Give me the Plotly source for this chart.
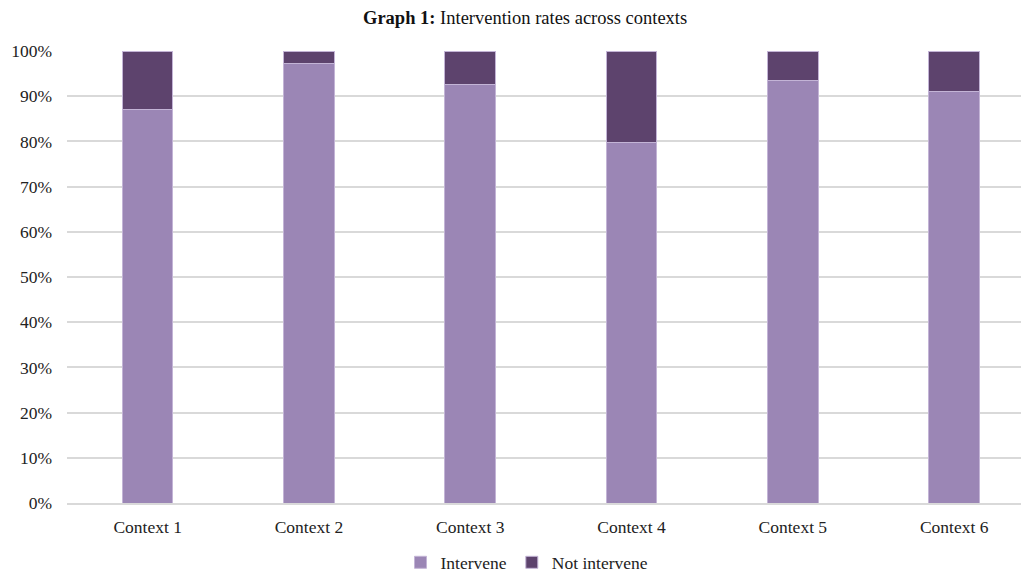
import plotly.graph_objects as go

categories = ["Context 1", "Context 2", "Context 3", "Context 4", "Context 5", "Context 6"]
intervene = [0.870, 0.973, 0.927, 0.798, 0.935, 0.911]
not_intervene = [round(1 - v, 3) for v in intervene]
series_names = ["Intervene", "Not intervene"]
colors = ["#9B86B5", "#5D436D"]

FONT = "Liberation Serif"
W, H = 1021, 573
left, right, top, bottom = 67, 0, 51, 69.5
plot_w = W - left - right
plot_h = H - top - bottom
cat_px = 161.3
span = plot_w / cat_px

fig = go.Figure()
for name, vals, col in zip(series_names, [intervene, not_intervene], colors):
    fig.add_trace(go.Bar(
        x=categories, y=vals, name=name, width=0.314,
        marker=dict(color=col, line=dict(color="#C3B4D6", width=1)),
    ))

fig.update_layout(
    width=W, height=H, barmode="stack",
    margin=dict(l=left, r=right, t=top, b=bottom, autoexpand=False),
    paper_bgcolor="white", plot_bgcolor="white",
    font=dict(family=FONT, size=17.5, color="#222222"),
    showlegend=True,
    legend=dict(orientation="h", x=(527 - left) / plot_w, xanchor="center",
                y=(503.5 - 563) / plot_h, yanchor="middle",
                font=dict(size=17.5, family=FONT), itemwidth=30, traceorder="normal",
                itemclick=False),
    xaxis=dict(range=[-0.5, -0.5 + span], showgrid=False, zeroline=False,
               showline=True, linecolor="#D9D9D9", linewidth=1.5,
               ticks="", ticklabelstandoff=7, tickfont=dict(size=17.5)),
    yaxis=dict(range=[0, 1], dtick=0.1, tickformat=".0%", showgrid=True,
               gridcolor="#D9D9D9", gridwidth=1.5, zeroline=False, showline=False,
               ticks="", ticklabelstandoff=14, tickfont=dict(size=17.5)),
)
fig.add_annotation(
    text="<b>Graph 1:</b> Intervention rates across contexts",
    xref="paper", yref="paper",
    x=(525 - left) / plot_w, y=1 + (51 - 18) / plot_h,
    xanchor="center", yanchor="middle", showarrow=False,
    font=dict(family=FONT, size=18.5, color="#111111"),
)
fig.write_html("out.html")
